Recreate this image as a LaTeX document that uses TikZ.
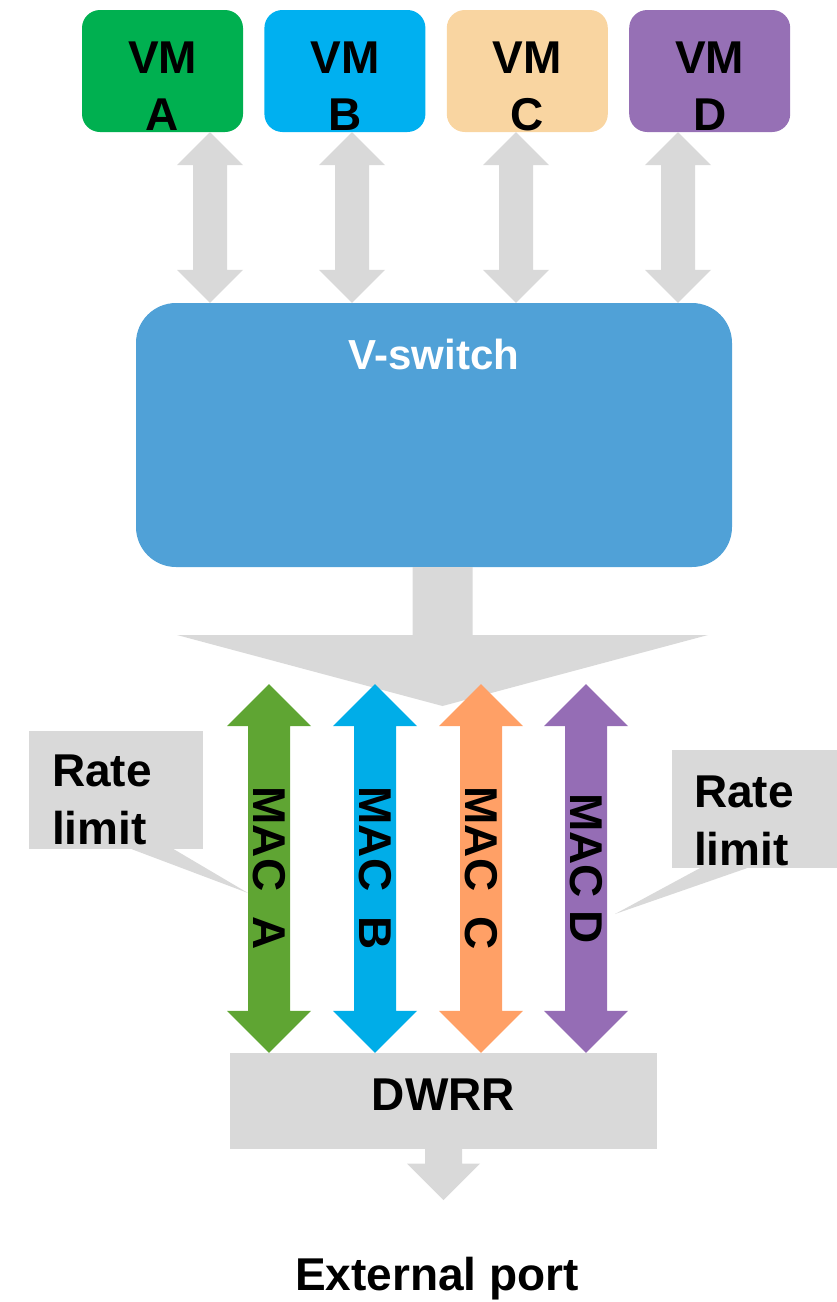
\documentclass[tikz,border=0pt]{standalone}
\usepackage{fontspec}
\setmainfont{Liberation Sans}
\usetikzlibrary{calc,positioning}

\definecolor{cvmA}{HTML}{00B050}
\definecolor{cvmB}{HTML}{00B0F0}
\definecolor{cvmC}{HTML}{F9D5A1}
\definecolor{cvmD}{HTML}{9670B5}
\definecolor{vsw}{HTML}{50A1D7}
\definecolor{lgray}{HTML}{D9D9D9}
\definecolor{macA}{HTML}{5FA533}
\definecolor{macB}{HTML}{00ADE8}
\definecolor{macC}{HTML}{FFA066}
\definecolor{macD}{HTML}{956DB5}

% block arrow with a head at both ends: from, to, head half width, shaft half width, colour
\newcommand{\fatlink}[5]{%
  \fill[#5] let \p1=(#1), \p2=(#2) in
    (\p1) -- (\x1+#3pt,\y1-#3pt) -- (\x1+#4pt,\y1-#3pt)
    -- (\x2+#4pt,\y2+#3pt) -- (\x2+#3pt,\y2+#3pt) -- (\p2)
    -- (\x2-#3pt,\y2+#3pt) -- (\x2-#4pt,\y2+#3pt)
    -- (\x1-#4pt,\y1-#3pt) -- (\x1-#3pt,\y1-#3pt) -- cycle;}
% block arrow with one head: from, to, head half width, shaft half width, head length, colour
\newcommand{\fatarrow}[6]{%
  \fill[#6] let \p1=(#1), \p2=(#2) in
    (\x1-#4pt,\y1) -- (\x1+#4pt,\y1) -- (\x2+#4pt,\y2+#5pt)
    -- (\x2+#3pt,\y2+#5pt) -- (\p2) -- (\x2-#3pt,\y2+#5pt)
    -- (\x2-#4pt,\y2+#5pt) -- cycle;}

\tikzset{
  big/.style={font=\fontsize{46}{57}\selectfont\bfseries},
  vmbox/.style={big, rounded corners=18pt, minimum width=161pt, inner sep=0pt,
    align=center, text height=120pt, text depth=2pt},
  vswbox/.style={fill=vsw, rounded corners=40pt, minimum width=596pt, inner sep=0pt,
    text=white, font=\fontsize{42}{50}\selectfont\bfseries,
    text height=66pt, text depth=198pt},
  graybox/.style={fill=lgray, inner sep=0pt},
  ratebox/.style={graybox, big, align=left, font=\fontsize{46}{58}\selectfont\bfseries},
  mactext/.style={big, rotate=-90, inner sep=0pt}
}

\begin{document}
\begin{tikzpicture}[x=1pt, y=-1pt]
\useasboundingbox (0,0) rectangle (837,1302);

% virtual machines
\node (vmA) [vmbox, fill=cvmA] at (162.5,71) {VM\\A};
\node (vmB) [vmbox, fill=cvmB, right=21pt of vmA] {VM\\B};
\node (vmC) [vmbox, fill=cvmC, right=21pt of vmB] {VM\\C};
\node (vmD) [vmbox, fill=cvmD, right=21pt of vmC] {VM\\D};

% switch
\node (vswitch) [vswbox] at (434,435) {V-switch};
\foreach \v/\posx in {A/210,B/352,C/516,D/678}{
  \coordinate (x\v) at (\posx,0);
  \fatlink{vm\v.south -| x\v}{vswitch.north -| x\v}{33}{17}{lgray}
}
\coordinate (fTip) at (442.5,706);
\fatarrow{vswitch.south -| fTip}{fTip}{265.5}{30}{71}{lgray}

% per MAC queues
\node (dwrr) [graybox, big, minimum width=427pt, text height=57pt, text depth=39pt]
  at (443.5,1101) {DWRR};
\foreach \v/\posx in {A/269,B/375,C/481,D/586}{
  \coordinate (m\v) at (\posx,684);
  \fatlink{m\v}{dwrr.north -| m\v}{42}{21}{mac\v}
}
\node (labA) [mactext] at ($(mA)!.5!(dwrr.north -| mA)$) {MAC\ \ A};
\node (labB) [mactext] at ($(mB)!.5!(dwrr.north -| mB)$) {MAC\ \ B};
\node (labC) [mactext] at ($(mC)!.5!(dwrr.north -| mC)$) {MAC\ \ C};
\node (labD) [mactext] at ($(mD)!.5!(dwrr.north -| mD)$) {MAC D};

% rate limit callouts
\node (rateL) [ratebox, inner xsep=23pt, text width=128pt, text height=55pt, text depth=63pt]
  at (116,790) {Rate\\limit};
\coordinate (tipL) at (248,893);
\fill[lgray] ($(rateL.south west)+(103,0)$) -- (tipL) -- ($(rateL.south west)+(145,0)$) -- cycle;
\node (rateR) [ratebox, inner xsep=22pt, text width=121pt, text height=57pt, text depth=61pt]
  at (754.5,809) {Rate\\limit};
\coordinate (tipR) at (615,914);
\fill[lgray] ($(rateR.south west)+(28,0)$) -- (tipR) -- ($(rateR.south west)+(75,0)$) -- cycle;

% output
\coordinate (oTip) at (443.5,1200);
\fatarrow{dwrr.south -| oTip}{oTip}{36.5}{18.5}{36.5}{lgray}
\node (port) [big, anchor=base] at (437,1290) {External port};
\end{tikzpicture}
\end{document}
